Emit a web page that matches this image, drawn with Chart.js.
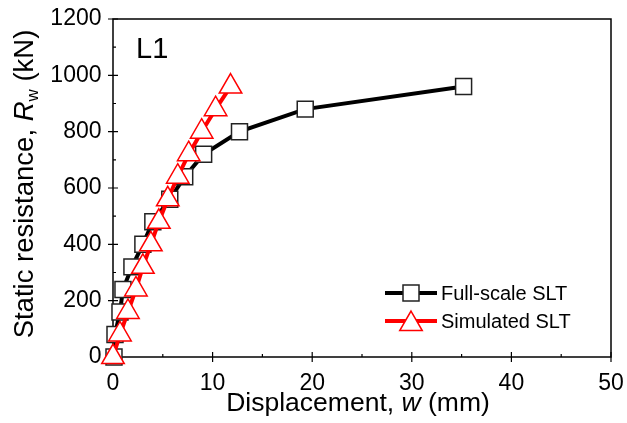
<!DOCTYPE html>
<html>
<head>
<meta charset="utf-8">
<script src="https://cdn.jsdelivr.net/npm/chart.js@4.4.1/dist/chart.umd.min.js"></script>
<style>
  body { margin: 0; background: #fff; }
  #wrap { width: 627px; height: 423px; }
</style>
</head>
<body>
<div id="wrap"><canvas id="chart" width="627" height="423"></canvas></div>
<script>
// ---------------- DATA ----------------
const fullX = [0.1, 0.2, 0.7, 1.0, 1.9, 3.0, 4.0, 5.7, 7.2, 9.1, 12.7, 19.3, 35.2];
const fullY = [0, 80, 160, 240, 320, 400, 480, 560, 640, 720, 800, 880, 960];
const simX = [0, 0.7, 1.5, 2.3, 3.0, 3.8, 4.6, 5.5, 6.5, 7.6, 8.9, 10.3, 11.8];
const simY = [0, 80, 160, 240, 320, 400, 480, 560, 640, 720, 800, 880, 960];
const xTicks = [0, 10, 20, 30, 40, 50];
const yTicks = [0, 200, 400, 600, 800, 1000, 1200];
const seriesNames = ["Full-scale SLT", "Simulated SLT"];
const panelLabel = "L1";

const FONT = "'Liberation Sans', Arial, sans-serif";

function toPoints(xs, ys) {
  return xs.map((x, i) => ({ x: x, y: ys[i] }));
}

// ---------------- HELPERS ----------------
function drawSquare(ctx, x, y, side) {
  ctx.save();
  ctx.fillStyle = "#fff";
  ctx.strokeStyle = "#222";
  ctx.lineWidth = 1.5;
  ctx.beginPath();
  ctx.rect(x - side / 2, y - side / 2, side, side);
  ctx.fill();
  ctx.stroke();
  ctx.restore();
}

function drawTriangle(ctx, x, y, r) {
  ctx.save();
  ctx.fillStyle = "#fff";
  ctx.strokeStyle = "#ff0000";
  ctx.lineWidth = 1.5;
  ctx.beginPath();
  ctx.moveTo(x, y - r);
  ctx.lineTo(x + r * Math.sqrt(3) / 2, y + r / 2);
  ctx.lineTo(x - r * Math.sqrt(3) / 2, y + r / 2);
  ctx.closePath();
  ctx.fill();
  ctx.stroke();
  ctx.restore();
}

// draws text pieces one after another: [{t, style, size, dy}]
function drawPieces(ctx, pieces, x, y) {
  let total = 0;
  pieces.forEach(p => {
    ctx.font = (p.style || "") + " " + p.size + "px " + FONT;
    total += ctx.measureText(p.t).width;
  });
  let cx = x - total / 2;
  pieces.forEach(p => {
    ctx.font = (p.style || "") + " " + p.size + "px " + FONT;
    ctx.fillText(p.t, cx, y + (p.dy || 0));
    cx += ctx.measureText(p.t).width;
  });
}

// ---------------- FRAME / TICKS ----------------
const framePlugin = {
  id: "frame",
  beforeDatasetsDraw(chart) {
    const ctx = chart.ctx;
    const a = chart.chartArea;
    const xs = chart.scales.x;
    const ys = chart.scales.y;
    ctx.save();
    ctx.strokeStyle = "#000";
    ctx.lineWidth = 1.5;
    ctx.strokeRect(a.left, a.top, a.right - a.left, a.bottom - a.top);

    // major ticks cross the axis, minor ticks point inward
    ctx.lineWidth = 1.2;
    ctx.beginPath();
    for (let i = 0; i < xTicks.length; i++) {
      const px = xs.getPixelForValue(xTicks[i]);
      ctx.moveTo(px, a.bottom + 5);
      ctx.lineTo(px, a.bottom - 5);
      if (i < xTicks.length - 1) {
        const mx = xs.getPixelForValue((xTicks[i] + xTicks[i + 1]) / 2);
        ctx.moveTo(mx, a.bottom);
        ctx.lineTo(mx, a.bottom - 3);
      }
    }
    for (let i = 0; i < yTicks.length; i++) {
      const py = ys.getPixelForValue(yTicks[i]);
      ctx.moveTo(a.left - 5, py);
      ctx.lineTo(a.left + 5, py);
      if (i < yTicks.length - 1) {
        const my = ys.getPixelForValue((yTicks[i] + yTicks[i + 1]) / 2);
        ctx.moveTo(a.left, my);
        ctx.lineTo(a.left + 3, my);
      }
    }
    ctx.stroke();
    ctx.restore();
  },
  afterDraw(chart) {
    const ctx = chart.ctx;
    ctx.save();
    ctx.fillStyle = "#000";
    ctx.textBaseline = "alphabetic";

    // x title
    drawPieces(ctx, [
      { t: "Displacement, ", size: 26.5 },
      { t: "w", size: 26.5, style: "italic" },
      { t: " (mm)", size: 26.5 }
    ], 358, 411);

    // y title
    ctx.save();
    ctx.translate(33, 184);
    ctx.rotate(-Math.PI / 2);
    drawPieces(ctx, [
      { t: "Static resistance, ", size: 27.5 },
      { t: "R", size: 27.5, style: "italic" },
      { t: "w", size: 17, dy: 5 },
      { t: " (kN)", size: 27.5 }
    ], 0, 0);
    ctx.restore();

    // panel label
    ctx.font = "29px " + FONT;
    ctx.textAlign = "left";
    ctx.fillText(panelLabel, 136, 58);

    // legend
    const lx = 385, lw = 52;
    const rows = [293, 321];
    ctx.lineWidth = 4;
    ctx.strokeStyle = "#000";
    ctx.beginPath();
    ctx.moveTo(lx, rows[0]);
    ctx.lineTo(lx + lw, rows[0]);
    ctx.stroke();
    drawSquare(ctx, lx + lw / 2, rows[0], 16);
    ctx.strokeStyle = "#ff0000";
    ctx.beginPath();
    ctx.moveTo(lx, rows[1]);
    ctx.lineTo(lx + lw, rows[1]);
    ctx.stroke();
    drawTriangle(ctx, lx + lw / 2, rows[1] + 3, 13);

    ctx.fillStyle = "#000";
    ctx.font = "20px " + FONT;
    ctx.textBaseline = "middle";
    ctx.fillText(seriesNames[0], 441, rows[0] + 1);
    ctx.fillText(seriesNames[1], 441, rows[1] + 1);
    ctx.restore();
  }
};

// ---------------- CHART ----------------
const ctx = document.getElementById("chart");

const chart = new Chart(ctx, {
  type: "line",
  data: {
    datasets: [
      {
        label: seriesNames[0],
        data: toPoints(fullX, fullY),
        borderColor: "#000",
        borderWidth: 4,
        pointStyle: "rect",
        pointRadius: 11.3,
        pointBackgroundColor: "#fff",
        pointBorderColor: "#222",
        pointBorderWidth: 1.5,
        tension: 0,
        clip: false,
        order: 2
      },
      {
        label: seriesNames[1],
        data: toPoints(simX, simY),
        borderColor: "#ff0000",
        borderWidth: 4,
        pointStyle: "triangle",
        pointRadius: 13,
        pointBackgroundColor: "#fff",
        pointBorderColor: "#ff0000",
        pointBorderWidth: 1.5,
        tension: 0,
        clip: false,
        order: 1
      }
    ]
  },
  options: {
    responsive: false,
    animation: false,
    events: [],
    layout: { padding: { top: 19, right: 16, left: 0, bottom: 0 } },
    plugins: {
      legend: { display: false },
      tooltip: { enabled: false }
    },
    scales: {
      x: {
        type: "linear",
        min: xTicks[0],
        max: xTicks[xTicks.length - 1],
        grid: { display: false, drawTicks: true, tickLength: 13 },
        border: { display: false },
        ticks: {
          stepSize: 10,
          color: "#000",
          padding: 0,
          maxRotation: 0,
          font: { family: FONT, size: 23 },
          callback: v => String(v)
        },
        afterFit(scale) { scale.height = 66; }
      },
      y: {
        type: "linear",
        min: yTicks[0],
        max: yTicks[yTicks.length - 1],
        grid: { display: false, drawTicks: true, tickLength: 11.5 },
        border: { display: false },
        ticks: {
          stepSize: 200,
          color: "#000",
          padding: 0,
          font: { family: FONT, size: 23 },
          callback: v => String(v)
        },
        afterFit(scale) { scale.width = 113; }
      }
    }
  },
  plugins: [framePlugin]
});
</script>
</body>
</html>
